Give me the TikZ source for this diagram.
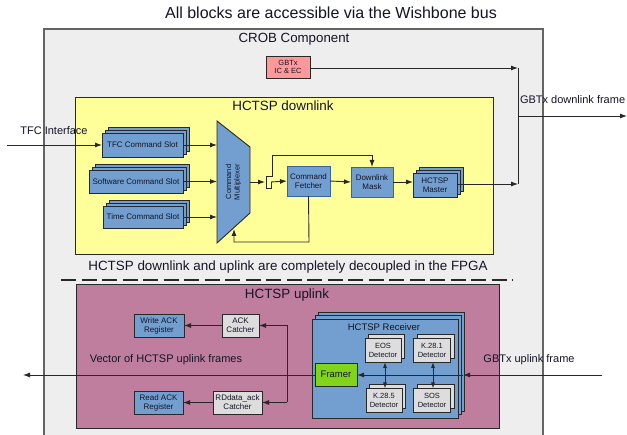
\documentclass[tikz,border=0pt]{standalone}
\usepackage{fontspec}
\setmainfont{Liberation Sans}
\usetikzlibrary{arrows.meta,shadows,calc}
\definecolor{crobbg}{RGB}{238,238,238}
\definecolor{crobline}{RGB}{100,100,100}
\definecolor{yel}{RGB}{255,255,153}
\definecolor{mauve}{RGB}{192,126,158}
\definecolor{bluef}{RGB}{114,159,207}
\definecolor{blued}{RGB}{52,101,164}
\definecolor{grayf}{RGB}{221,221,221}
\definecolor{greenf}{RGB}{129,212,26}
\definecolor{pinkf}{RGB}{255,153,153}
\definecolor{dark}{RGB}{40,40,40}
\definecolor{txt}{RGB}{20,20,40}
\begin{document}
\begin{tikzpicture}[x=1pt,y=-1pt,
  every node/.style={inner sep=0pt,outer sep=0pt,align=center,text=txt},
  wire/.style={draw=dark,line width=0.9pt},
  arr/.style={wire,-{Latex[length=7pt,width=5pt]}},
  darr/.style={wire,{Latex[length=6pt,width=4pt]}-{Latex[length=6pt,width=4pt]}},
  bbox/.style={draw=dark,line width=0.9pt,fill=bluef,font=\fontsize{8}{9}\selectfont},
  bboxb/.style={draw=blued,line width=0.9pt,fill=bluef,font=\fontsize{8}{9}\selectfont},
  gbox/.style={draw=dark,line width=0.9pt,fill=grayf,font=\fontsize{8}{9}\selectfont},
  dbox/.style={draw=dark,line width=0.9pt,fill=grayf,font=\fontsize{7.5}{9}\selectfont},
  stack3/.style={double copy shadow={shadow xshift=3pt,shadow yshift=3pt}},
  stack2/.style={copy shadow={shadow xshift=3.5pt,shadow yshift=4pt}},
  big/.style={font=\fontsize{13.4}{15}\selectfont},
  mid/.style={font=\fontsize{11}{13}\selectfont}
]
\useasboundingbox (0,0) rectangle (627,435);
\fill[white] (0,0) rectangle (627,435);
% title
\node[font=\fontsize{16}{18}\selectfont] (title) at (331,13) {All blocks are accessible via the Wishbone bus};
% CROB
\fill[crobbg] (44,29) rectangle (543,436);
\draw[crobline,line width=1.2pt] (44,436) -- (44,29) -- (543,29) -- (543,436);
\node[font=\fontsize{13.3}{15}\selectfont] (crob) at (294,39) {CROB Component};
\node[draw=dark,line width=0.9pt,fill=pinkf,minimum width=44pt,minimum height=22pt,font=\fontsize{7.5}{8.5}\selectfont] (gbtx) at (288,67) {GBTx\\IC \& EC};
% downlink
\draw[dark,line width=0.9pt,fill=yel] (75,97) rectangle (493,254);
\node[big] (dltitle) at (283,106) {HCTSP downlink};
\node[mid] (tfcif) at (54,131) {TFC Interface};
\node[bbox,stack3,minimum width=81pt,minimum height=24pt] (tfc) at (142.5,145) {TFC Command Slot};
\node[bbox,stack3,minimum width=94pt,minimum height=23pt] (sw) at (136,181.5) {Software Command Slot};
\node[bbox,stack3,minimum width=80pt,minimum height=22pt] (time) at (143,217) {Time Command Slot};
\draw[dark,line width=0.9pt,fill=bluef] (217,121) -- (250,147) -- (250,213) -- (217,243) -- cycle;
\coordinate (muxA) at (217,145);
\coordinate (muxB) at (217,181.5);
\coordinate (muxC) at (217,217);
\coordinate (muxO) at (250,182);
\coordinate (muxFB) at (234,229);
\node[rotate=90,font=\fontsize{7.5}{8.5}\selectfont] (muxlbl) at (233.5,182) {Command\\Multiplexer};
\node[bboxb,minimum width=43pt,minimum height=30pt] (fetch) at (308.5,181) {Command\\Fetcher};
\node[bboxb,minimum width=42pt,minimum height=30pt] (mask) at (372,182) {Downlink\\Mask};
\node[bbox,stack3,minimum width=44pt,minimum height=24pt] (master) at (435,185) {HCTSP\\Master};
\coordinate (tfcin) at (7,145);
\draw[arr] (tfcin) -- (tfc.west);
\draw[arr] (tfc.east) -- (muxA);
\draw[arr] (sw.east) -- (muxB);
\draw[arr] (time.east) -- (muxC);
\coordinate (hopA) at (265,182);
\draw[arr] (muxO) -- (hopA);
\draw[wire] (266,176) -- (266,188) -- (271,188) -- (271,182);
\draw[arr] (271,182) -- (fetch.west);
\draw[arr] (266,176) -- (272,176) -- (272,155) -- (372,155) -- (mask.north);
\draw[arr] (fetch.east) -- (mask.west);
\draw[arr] (mask.east) -- (master.west |- mask.east);
\draw[arr] (fetch.south) -- (309,242) -- (234,242) -- (muxFB);
% output to GBTx downlink
\coordinate (jx1) at (518,184);
\coordinate (jx2) at (518,68);
\coordinate (outR) at (627,116);
\draw[arr] (master.east |- jx1) -- (jx1);
\draw[arr] (gbtx.east |- jx2) -- (jx2);
\draw[wire] (jx2) -- (jx1);
\draw[arr] (518,116) -- (outR);
\node[mid,anchor=west] (gbtxdl) at (520,100) {GBTx downlink frame};
% separator
\draw[dark,line width=2pt,dash pattern=on 15pt off 5.5pt] (61,280) -- (513,280);
\node[big] (decoup) at (288,267) {HCTSP downlink and uplink are completely decoupled in the FPGA};
% uplink
\draw[dark,line width=0.9pt,fill=mauve] (76,284) rectangle (499,428);
\node[big] (ultitle) at (287,295) {HCTSP uplink};
\node[bbox,minimum width=50pt,minimum height=23pt] (wack) at (159,325.5) {Write ACK\\Register};
\node[gbox,minimum width=37pt,minimum height=23pt] (ackc) at (240.5,325.5) {ACK\\Catcher};
\node[bbox,minimum width=49pt,minimum height=23pt] (rack) at (158.5,402.5) {Read ACK\\Register};
\node[gbox,minimum width=49pt,minimum height=23pt] (rdc) at (237.5,402.5) {RDdata\_ack\\Catcher};
\node[mid] (vec) at (166,360) {Vector of HCTSP uplink frames};
% receiver
\node[draw=dark,line width=0.9pt,fill=bluef,double copy shadow={shadow xshift=3.3pt,shadow yshift=3.3pt},minimum width=146pt,minimum height=99pt] (recv) at (385,368.5) {};
\node[font=\fontsize{9.5}{11}\selectfont] (recvlbl) at (384,327) {HCTSP Receiver};
\node[dbox,stack2,minimum width=36pt,minimum height=24pt] (eos) at (383,350) {EOS\\Detector};
\node[dbox,stack2,minimum width=37pt,minimum height=24pt] (k281) at (432,350) {K.28.1\\Detector};
\node[dbox,stack2,minimum width=36pt,minimum height=24pt] (k285) at (384,400.5) {K.28.5\\Detector};
\node[dbox,stack2,minimum width=37pt,minimum height=24pt] (sos) at (432,400.5) {SOS\\Detector};
\node[draw=dark,line width=0.9pt,fill=greenf,minimum width=42pt,minimum height=23pt,font=\fontsize{9.5}{11}\selectfont] (framer) at (336,374.5) {Framer};
\coordinate (ulin) at (602,375);
\coordinate (recvR) at (463,375);
\coordinate (ulout) at (23,375);
\draw[arr] (ulin) -- (recvR);
\draw[arr] (recvR) -- (framer.east |- recvR);
\draw[arr] (framer.west |- ulout) -- (ulout);
\draw[darr] (385,362) -- (385,388.5);
\draw[darr] (433,362) -- (433,388.5);
\node[mid] (gbtxul) at (529,360) {GBTx uplink frame};
% ack wiring
\draw[wire] (287,325.5) -- (287,402.5);
\draw[arr] (287,325.5) -- (ackc.east);
\draw[arr] (287,402.5) -- (rdc.east);
\draw[arr] (ackc.west) -- (wack.east);
\draw[arr] (rdc.west) -- (rack.east);
\end{tikzpicture}
\end{document}
